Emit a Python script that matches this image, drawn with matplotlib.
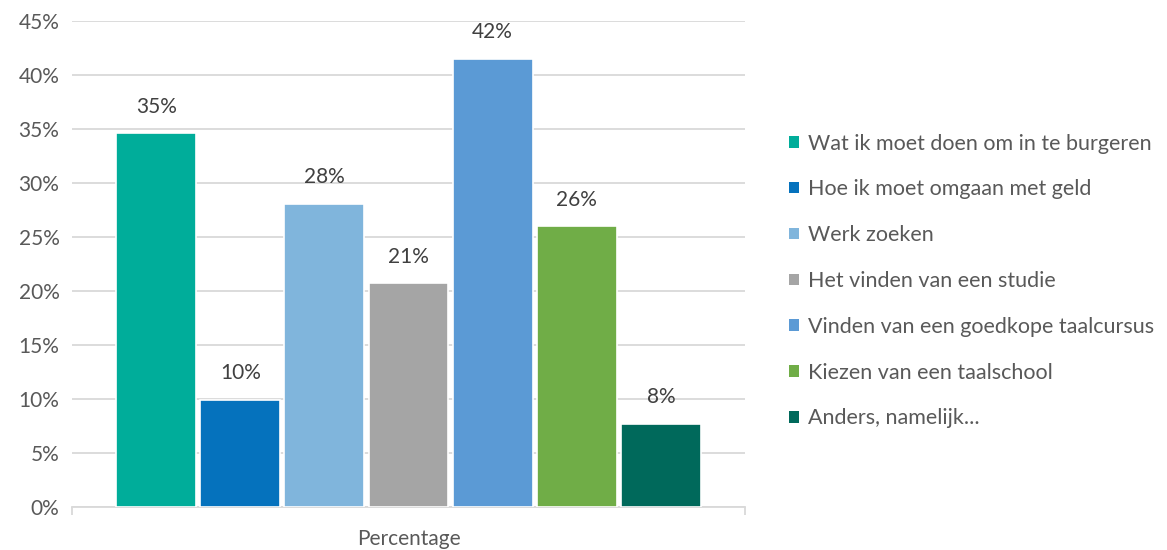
import matplotlib.pyplot as plt
from matplotlib.patches import Patch
from matplotlib.ticker import FuncFormatter

categorieen = ['Wat ik moet doen om in te burgeren',
               'Hoe ik moet omgaan met geld',
               'Werk zoeken',
               'Het vinden van een studie',
               'Vinden van een goedkope taalcursus',
               'Kiezen van een taalschool',
               'Anders, namelijk...']
waarden = [34.6, 9.9, 28.1, 20.7, 41.5, 26.0, 7.7]
kleuren = ['#00AD9A', '#0572BD', '#80B5DC', '#A5A5A5', '#5B9AD5', '#70AD47', '#00695B']
groep_label = 'Percentage'

plt.rcParams['font.family'] = ['Lato', 'DejaVu Sans']

fig = plt.figure(figsize=(11.67, 5.5), dpi=100)
ax = fig.add_axes([72/1167, 43/550, 673/1167, 486/550])

posities = list(range(len(waarden)))
bars = ax.bar(posities, waarden, width=0.95, color=kleuren,
              edgecolor='white', linewidth=1.2, zorder=3)

for p, v in zip(posities, waarden):
    ax.annotate(f"{v:.0f}%", (p, v), textcoords="offset points", xytext=(0, 12),
                ha='center', va='bottom', fontsize=15, color='#404040')

ax.set_xlim(-1, 7)
ax.set_ylim(0, 45)
ax.set_yticks(range(0, 46, 5))
ax.yaxis.set_major_formatter(FuncFormatter(lambda y, _: f"{y:.0f}%"))
ax.grid(axis='y', color='#D9D9D9', linewidth=1.3, zorder=0)
ax.tick_params(axis='y', length=0, labelsize=15, labelcolor='#595959', pad=9)

ax.set_xticks([3])
ax.set_xticklabels([groep_label])
ax.set_xticks([-1, 7], minor=True)
ax.tick_params(axis='x', which='major', length=0, labelsize=15, labelcolor='#595959', pad=16)
ax.tick_params(axis='x', which='minor', length=6, color='#D9D9D9', width=1.3)

for s in ['top', 'right', 'left']:
    ax.spines[s].set_visible(False)
ax.spines['bottom'].set_color('#D9D9D9')
ax.spines['bottom'].set_linewidth(1.3)

handles = [Patch(facecolor=c, edgecolor='none') for c in kleuren]
leg = fig.legend(handles, categorieen, loc='center left',
                 bbox_to_anchor=(770/1167, 1 - 281/550), frameon=False,
                 fontsize=15.5, handlelength=0.45, handleheight=0.45,
                 handletextpad=0.4, labelspacing=1.2)
for t in leg.get_texts():
    t.set_color('#595959')

fig.savefig('out.png', dpi=100, facecolor='white')
